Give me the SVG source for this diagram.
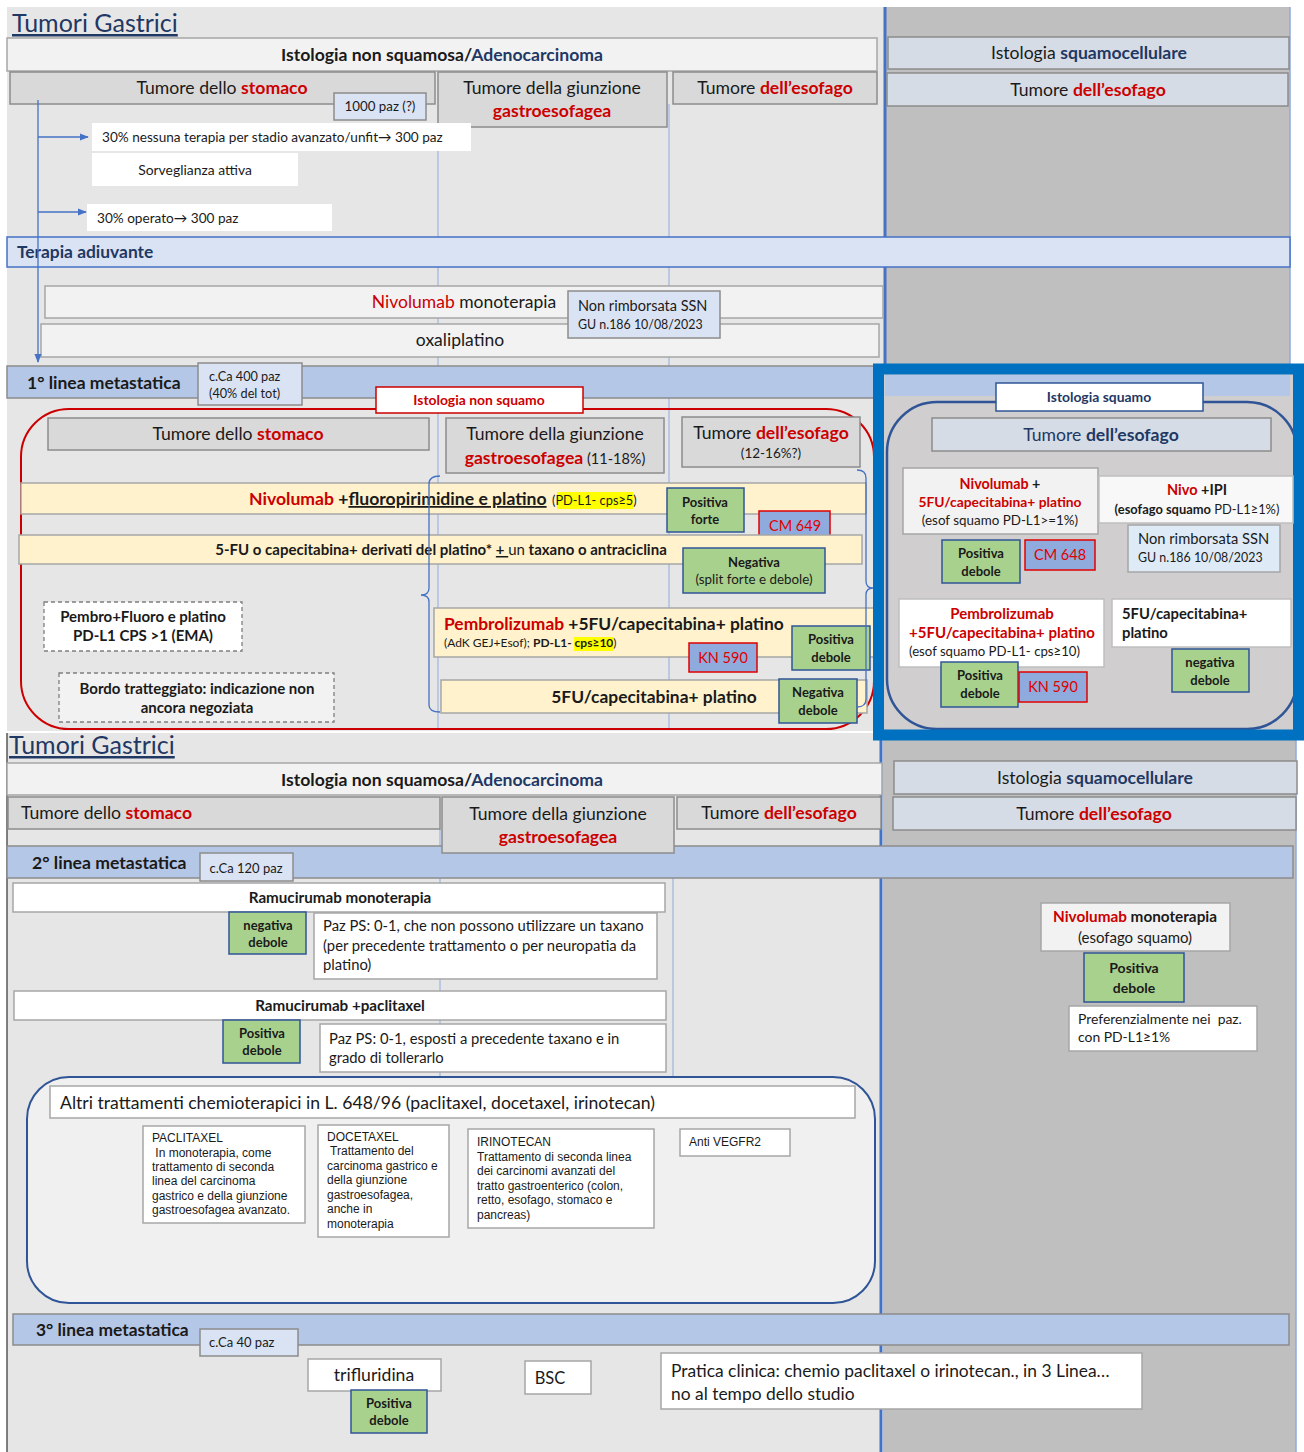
<svg xmlns="http://www.w3.org/2000/svg" width="1304" height="1452" viewBox="0 0 1304 1452">
<defs>
<style>
text{font-family:Lato,"Liberation Sans",sans-serif;fill:#1a1a1a}
.b{font-weight:bold}
.r{fill:#cc0000}
.db{fill:#1f3864}
.ar{font-family:"Liberation Sans",Arial,sans-serif;font-size:12px}
.c{text-anchor:middle}
.gbox{fill:#d9d9d9;stroke:#8c8c8c;stroke-width:1.5}
.lt{fill:#f2f2f2;stroke:#a6a6a6;stroke-width:1.5}
.wh{fill:#fff;stroke:#a6a6a6;stroke-width:1.5}
.lb{fill:#dae3f3;stroke:#8c8c8c;stroke-width:1.5}
.sq{fill:#d6dce5;stroke:#8c8c8c;stroke-width:1.5}
.band{fill:#b4c7e7;stroke:#8c8c8c;stroke-width:1.5}
.yel{fill:#fff2cc;stroke:#a6a6a6;stroke-width:1.5}
.grn{fill:#a9d18e;stroke:#2f5597;stroke-width:1.5}
.cm{fill:#8faadc;stroke:#e00000;stroke-width:1.5}
.cmt{fill:#e00000;font-size:14.5px;text-anchor:middle}
.gt{font-size:13px;font-weight:bold;text-anchor:middle}
.h{font-size:17.6px}
.dash{stroke-dasharray:4 3}
.col{stroke:#8faadc;stroke-width:1}
.conn{stroke:#4472c4;stroke-width:1.3;fill:none}
.hl{fill:#ffff00}
.pre{white-space:pre}
</style>
<marker id="ah" viewBox="0 0 10 10" refX="9" refY="5" markerWidth="7" markerHeight="7" orient="auto"><path d="M0,1 L10,5 L0,9 z" fill="#4472c4"/></marker>
</defs>

<!-- backgrounds -->
<rect width="1304" height="1452" fill="#fff"/>
<rect x="7" y="7" width="878" height="724" fill="#e7e6e6"/>
<rect x="886" y="7" width="404" height="360" fill="#bfbfbf"/>
<line x1="1290" y1="7" x2="1290" y2="367" stroke="#8faadc" stroke-width="1.5"/>
<line x1="885" y1="7" x2="885" y2="367" stroke="#4472c4" stroke-width="3"/>
<rect x="7" y="733" width="874" height="719" fill="#e7e6e6"/>
<rect x="883" y="736" width="413" height="716" fill="#bfbfbf"/>
<line x1="1296" y1="736" x2="1296" y2="1452" stroke="#8faadc" stroke-width="1.5"/>
<line x1="881" y1="736" x2="881" y2="1452" stroke="#4472c4" stroke-width="3"/>
<line x1="7" y1="733" x2="7" y2="1452" stroke="#595959" stroke-width="1.5"/>

<!-- column guide lines -->
<g id="column-lines">
<line class="col" x1="438" y1="127" x2="438" y2="729"/>
<line class="col" x1="669" y1="104" x2="669" y2="729"/>
<line class="col" x1="440" y1="829" x2="440" y2="1077"/>
<line class="col" x1="673" y1="829" x2="673" y2="1077"/>
</g>

<!-- ===== TOP SECTION ===== -->
<g id="title-top"><text x="12" y="32" font-size="25" class="db" text-decoration="underline">Tumori Gastrici</text></g>

<g id="hdr-nonsquamosa"><rect class="lt" x="7" y="38" width="870" height="33"/>
<text class="b c" x="442" y="61" font-size="17.6">Istologia non squamosa/<tspan class="db">Adenocarcinoma</tspan></text></g>
<g id="hdr-squamocellulare"><rect class="sq" x="888" y="37" width="401" height="32"/>
<text class="c h" x="1089" y="59">Istologia <tspan class="b db">squamocellulare</tspan></text></g>
<g id="hdr-esofago-r"><rect class="sq" x="887" y="73" width="401" height="33"/>
<text class="c h" x="1088" y="96">Tumore <tspan class="b r">dell’esofago</tspan></text></g>

<g id="hdr-stomaco"><rect class="gbox" x="10" y="72" width="425" height="32"/>
<text class="c h" x="222" y="94">Tumore dello <tspan class="b r">stomaco</tspan></text></g>
<g id="n-1000paz"><rect class="lb" x="334" y="93" width="92" height="27"/>
<text class="c" x="380" y="111" font-size="13.3">1000 paz (?)</text></g>
<g id="hdr-giunzione"><rect class="gbox" x="438" y="72" width="229" height="55"/>
<text class="c h" x="552" y="94">Tumore della giunzione</text>
<text class="c b r h" x="552" y="117">gastroesofagea</text></g>
<g id="hdr-esofago"><rect class="gbox" x="673" y="72" width="204" height="32"/>
<text class="c h" x="775" y="94">Tumore <tspan class="b r">dell’esofago</tspan></text></g>

<g id="n-nessuna"><rect x="92" y="123" width="379" height="28" fill="#fff"/>
<text x="102" y="142" font-size="13.6">30% nessuna terapia per stadio avanzato/unfit→ 300 paz</text></g>
<g id="n-sorveglianza"><rect x="92" y="153" width="206" height="33" fill="#fff"/>
<text class="c" x="195" y="175" font-size="13.9">Sorveglianza attiva</text></g>
<g id="n-operato"><rect x="87" y="204" width="245" height="27" fill="#fff"/>
<text x="97" y="223" font-size="13.6">30% operato→ 300 paz</text></g>

<g id="band-adiuvante"><rect x="7" y="237" width="1283" height="30" fill="#dae3f3" stroke="#4472c4" stroke-width="1.5"/>
<text class="b db" x="17" y="258" font-size="17.4">Terapia adiuvante</text></g>

<g id="n-nivo-adj"><rect class="lt" x="45" y="286" width="838" height="32"/>
<text class="c" x="464" y="308" font-size="17.5"><tspan class="r">Nivolumab</tspan> monoterapia</text></g>
<g id="n-oxali"><rect class="lt" x="41" y="324" width="838" height="33"/>
<text class="c" x="460" y="346" font-size="17.5">oxaliplatino</text></g>
<g id="n-nonrimb-adj"><rect class="lb" x="568" y="291" width="152" height="47"/>
<text x="578" y="311" font-size="14.5">Non rimborsata SSN</text>
<text x="578" y="329" font-size="12.4">GU n.186 10/08/2023</text></g>

<g id="band-1linea"><rect class="band" x="7" y="366" width="1283" height="32"/>
<text class="b" x="27" y="389" font-size="17.5">1° linea metastatica</text></g>
<g id="n-400paz"><rect class="lb" x="198" y="363" width="104" height="42"/>
<text x="209" y="381" font-size="12.7">c.Ca 400 paz</text>
<text x="209" y="398" font-size="12.7">(40% del tot)</text></g>

<g id="grp-nonsquamo">
<rect x="21" y="409" width="853" height="320" rx="48" fill="none" stroke="#cc0000" stroke-width="2"/>
<rect x="376" y="387" width="207" height="26" fill="#fff" stroke="#cc0000" stroke-width="1.5"/>
<text class="c b r" x="479" y="405" font-size="13.9">Istologia non squamo</text>
</g>

<g id="l1-stomaco"><rect class="gbox" x="48" y="418" width="381" height="32"/>
<text class="c h" x="238" y="440">Tumore dello <tspan class="b r">stomaco</tspan></text></g>
<g id="l1-giunzione"><rect class="gbox" x="446" y="418" width="218" height="55"/>
<text class="c h" x="555" y="440">Tumore della giunzione</text>
<text class="c h" x="555" y="464"><tspan class="b r">gastroesofagea</tspan><tspan font-size="14.5"> (11-18%)</tspan></text></g>
<g id="l1-esofago"><rect class="gbox" x="682" y="417" width="178" height="50"/>
<text class="c h" x="771" y="439">Tumore <tspan class="b r">dell’esofago</tspan></text>
<text class="c" x="771" y="458" font-size="13.5">(12-16%?)</text></g>

<g id="l1-nivo-chemo"><rect class="yel" x="21" y="483" width="845" height="31"/>
<rect class="hl" x="557" y="492" width="76" height="17"/>
<text x="249" y="505" font-size="17.6" class="b"><tspan class="r">Nivolumab</tspan> +<tspan text-decoration="underline">fluoropirimidine e platino </tspan></text>
<text x="552" y="505" font-size="12.8">(PD-L1- cps≥5)</text></g>
<g id="l1-positiva-forte"><rect class="grn" x="667" y="488" width="77" height="44"/>
<text class="gt" x="705" y="507">Positiva</text><text class="gt" x="705" y="524">forte</text></g>
<g id="l1-cm649"><rect class="cm" x="759" y="511" width="71" height="29"/>
<text class="cmt" x="795" y="531">CM 649</text></g>

<g id="l1-5fu-taxano"><rect class="yel" x="19" y="535" width="843" height="29"/>
<text class="c b" x="441" y="555" font-size="15">5-FU o capecitabina+ derivati del platino* <tspan text-decoration="underline">+ </tspan><tspan font-weight="normal">un</tspan> taxano o antraciclina</text></g>
<g id="l1-negativa"><rect class="grn" x="683" y="548" width="142" height="45"/>
<text class="gt" x="754" y="567">Negativa</text>
<text class="c" x="754" y="584" font-size="13.4">(split forte e debole)</text></g>

<g id="l1-pembro-ema"><rect x="44" y="602" width="198" height="49" fill="#fff" stroke="#7f7f7f" stroke-width="1.3" class="dash"/>
<text class="c b" x="143" y="622" font-size="15">Pembro+Fluoro e platino</text>
<text class="c b" x="143" y="641" font-size="15">PD-L1 CPS &gt;1 (EMA)</text></g>
<g id="legenda"><rect x="59" y="673" width="275" height="49" fill="#f2f2f2" stroke="#7f7f7f" stroke-width="1.3" class="dash"/>
<text class="c b" x="197" y="694" font-size="15">Bordo tratteggiato: indicazione non</text>
<text class="c b" x="197" y="713" font-size="15">ancora negoziata</text></g>

<g id="l1-pembro"><rect class="yel" x="434" y="608" width="442" height="49"/>
<rect class="hl" x="574" y="637" width="39" height="14"/>
<text class="b" x="444" y="630" font-size="17.4"><tspan class="r">Pembrolizumab</tspan> +5FU/capecitabina+ platino</text>
<text x="444" y="647" font-size="12">(AdK GEJ+Esof); <tspan class="b">PD-L1- cps≥10</tspan>)</text></g>
<g id="l1-kn590"><rect class="cm" x="689" y="643" width="68" height="29"/>
<text class="cmt" x="723" y="663">KN 590</text></g>
<g id="l1-positiva-debole"><rect class="grn" x="792" y="626" width="78" height="44"/>
<text class="gt" x="831" y="644">Positiva</text><text class="gt" x="831" y="662">debole</text></g>

<g id="l1-5fu"><rect class="yel" x="441" y="680" width="426" height="33"/>
<text class="c b" x="654" y="703" font-size="17.4">5FU/capecitabina+ platino</text></g>
<g id="l1-negativa-debole"><rect class="grn" x="779" y="679" width="78" height="44"/>
<text class="gt" x="818" y="697">Negativa</text><text class="gt" x="818" y="715">debole</text></g>

<!-- squamo framed area -->
<g id="grp-squamo">
<rect x="879" y="369" width="419" height="366" fill="#d0cece"/>
<rect x="885" y="375" width="405" height="21" fill="#b4c7e7"/>
<rect x="887" y="402" width="410" height="327" rx="50" fill="none" stroke="#2f5597" stroke-width="2.5"/>
<rect x="878.5" y="369" width="420" height="366" fill="none" stroke="#0070c0" stroke-width="11"/>
<rect x="996" y="383" width="207" height="28" fill="#fff" stroke="#2f5597" stroke-width="1.5"/>
<text class="c b db" x="1099" y="402" font-size="13.9">Istologia squamo</text>
</g>
<g id="sq-esofago"><rect class="sq" x="932" y="418" width="339" height="33"/>
<text class="c db h" x="1101" y="441">Tumore <tspan class="b">dell’esofago</tspan></text></g>
<g id="sq-nivo-chemo"><rect class="lt" x="903" y="468" width="195" height="66"/>
<text class="c b" x="1000" y="489" font-size="14.3"><tspan class="r">Nivolumab</tspan> +</text>
<text class="c b r" x="1000" y="507" font-size="13.8">5FU/capecitabina+ platino</text>
<text class="c" x="1000" y="525" font-size="13.4">(esof squamo PD-L1&gt;=1%)</text></g>
<g id="sq-nivo-ipi"><rect x="1099" y="476" width="194" height="47" fill="#f8f8f8" stroke="#bfbfbf" stroke-width="1.5"/>
<text class="c b" x="1197" y="495" font-size="14.5"><tspan class="r">Nivo</tspan> +IPI</text>
<text class="c" x="1197" y="514" font-size="12.9"><tspan class="b">(esofago squamo</tspan> PD-L1≥1%)</text></g>
<g id="sq-nonrimb"><rect x="1128" y="525" width="152" height="47" fill="#deebf7" stroke="#a6a6a6" stroke-width="1.5"/>
<text x="1138" y="544" font-size="14.7">Non rimborsata SSN</text>
<text x="1138" y="562" font-size="12.4">GU n.186 10/08/2023</text></g>
<g id="sq-positiva-debole-1"><rect class="grn" x="942" y="540" width="78" height="43"/>
<text class="gt" x="981" y="558">Positiva</text><text class="gt" x="981" y="576">debole</text></g>
<g id="sq-cm648"><rect class="cm" x="1025" y="540" width="70" height="30"/>
<text class="cmt" x="1060" y="560">CM 648</text></g>
<g id="sq-pembro"><rect x="899" y="599" width="205" height="68" fill="#fff" stroke="#bfbfbf" stroke-width="1.5"/>
<text class="c b r" x="1002" y="619" font-size="15">Pembrolizumab</text>
<text class="c b r" x="1002" y="638" font-size="15">+5FU/capecitabina+ platino</text>
<text x="909" y="656" font-size="13.2">(esof squamo PD-L1- cps≥10)</text></g>
<g id="sq-5fu"><rect x="1112" y="599" width="179" height="48" fill="#fff" stroke="#bfbfbf" stroke-width="1.5"/>
<text class="b" x="1122" y="619" font-size="14.8">5FU/capecitabina+</text>
<text class="b" x="1122" y="638" font-size="14.8">platino</text></g>
<g id="sq-positiva-debole-2"><rect class="grn" x="941" y="662" width="77" height="45"/>
<text class="gt" x="980" y="680">Positiva</text><text class="gt" x="980" y="698">debole</text></g>
<g id="sq-kn590"><rect class="cm" x="1019" y="672" width="68" height="30"/>
<text class="cmt" x="1053" y="692">KN 590</text></g>
<g id="sq-negativa-debole"><rect class="grn" x="1172" y="649" width="77" height="43"/>
<text class="gt" x="1210" y="667">negativa</text><text class="gt" x="1210" y="685">debole</text></g>

<!-- ===== BOTTOM SECTION ===== -->
<g id="title-bottom"><text x="9" y="754" font-size="25" class="db" text-decoration="underline">Tumori Gastrici</text></g>
<g id="hdr2-nonsquamosa"><rect class="lt" x="7" y="763" width="875" height="32"/>
<text class="b c" x="442" y="786" font-size="17.6">Istologia non squamosa/<tspan class="db">Adenocarcinoma</tspan></text></g>
<g id="hdr2-squamocellulare"><rect class="sq" x="894" y="761" width="403" height="33"/>
<text class="c h" x="1095" y="784">Istologia <tspan class="b db">squamocellulare</tspan></text></g>
<g id="hdr2-esofago-r"><rect class="sq" x="893" y="797" width="403" height="33"/>
<text class="c h" x="1094" y="820">Tumore <tspan class="b r">dell’esofago</tspan></text></g>
<g id="hdr2-stomaco"><rect class="gbox" x="8" y="797" width="432" height="32"/>
<text class="h" x="21" y="819">Tumore dello <tspan class="b r">stomaco</tspan></text></g>
<g id="hdr2-esofago"><rect class="gbox" x="677" y="797" width="204" height="32"/>
<text class="c h" x="779" y="819">Tumore <tspan class="b r">dell’esofago</tspan></text></g>

<g id="band-2linea"><rect class="band" x="7" y="846" width="1286" height="32"/>
<text class="b" x="32" y="869" font-size="17.6">2° linea metastatica</text></g>
<g id="hdr2-giunzione"><rect class="gbox" x="442" y="797" width="232" height="56"/>
<text class="c h" x="558" y="820">Tumore della giunzione</text>
<text class="c b r h" x="558" y="843">gastroesofagea</text></g>
<g id="n-120paz"><rect class="lb" x="200" y="853" width="93" height="28"/>
<text class="c" x="246" y="873" font-size="13">c.Ca 120 paz</text></g>

<g id="l2-ramu-mono"><rect class="wh" x="13" y="883" width="652" height="29"/>
<text class="c b" x="340" y="903" font-size="15.2">Ramucirumab monoterapia</text></g>
<g id="l2-negativa-debole"><rect class="grn" x="229" y="912" width="77" height="42"/>
<text class="gt" x="268" y="930">negativa</text><text class="gt" x="268" y="947">debole</text></g>
<g id="l2-note1"><rect class="wh" x="314" y="913" width="343" height="66"/>
<text x="323" y="931" font-size="14.8">Paz PS: 0-1, che non possono utilizzare un taxano</text>
<text x="323" y="951" font-size="14.8">(per precedente trattamento o per neuropatia da</text>
<text x="323" y="970" font-size="14.8">platino)</text></g>
<g id="l2-ramu-pacli"><rect class="wh" x="14" y="991" width="652" height="29"/>
<text class="c b" x="340" y="1011" font-size="15.2">Ramucirumab +paclitaxel</text></g>
<g id="l2-positiva-debole"><rect class="grn" x="223" y="1020" width="77" height="43"/>
<text class="gt" x="262" y="1038">Positiva</text><text class="gt" x="262" y="1055">debole</text></g>
<g id="l2-note2"><rect class="wh" x="320" y="1024" width="346" height="48"/>
<text x="329" y="1044" font-size="14.8">Paz PS: 0-1, esposti a precedente taxano e in</text>
<text x="329" y="1063" font-size="14.8">grado di tollerarlo</text></g>

<g id="grp-altri"><rect x="27" y="1077" width="848" height="226" rx="42" fill="#f0f0f0" stroke="#2f5597" stroke-width="2"/></g>
<g id="l2-altri"><rect class="wh" x="50" y="1086" width="805" height="32"/>
<text x="60" y="1109" font-size="17.6">Altri trattamenti chemioterapici in L. 648/96 (paclitaxel, docetaxel, irinotecan)</text></g>
<g id="l2-paclitaxel"><rect class="wh" x="143" y="1126" width="162" height="97"/>
<text class="ar pre" x="152" y="1142">PACLITAXEL</text>
<text class="ar pre" x="152" y="1157"> In monoterapia, come</text>
<text class="ar" x="152" y="1171">trattamento di seconda</text>
<text class="ar" x="152" y="1185">linea del carcinoma</text>
<text class="ar" x="152" y="1200">gastrico e della giunzione</text>
<text class="ar" x="152" y="1214">gastroesofagea avanzato.</text></g>
<g id="l2-docetaxel"><rect class="wh" x="318" y="1125" width="131" height="112"/>
<text class="ar" x="327" y="1141">DOCETAXEL</text>
<text class="ar pre" x="327" y="1155"> Trattamento del</text>
<text class="ar" x="327" y="1170">carcinoma gastrico e</text>
<text class="ar" x="327" y="1184">della giunzione</text>
<text class="ar" x="327" y="1199">gastroesofagea,</text>
<text class="ar" x="327" y="1213">anche in</text>
<text class="ar" x="327" y="1228">monoterapia</text></g>
<g id="l2-irinotecan"><rect class="wh" x="468" y="1129" width="186" height="99"/>
<text class="ar" x="477" y="1146">IRINOTECAN</text>
<text class="ar" x="477" y="1161">Trattamento di seconda linea</text>
<text class="ar" x="477" y="1175">dei carcinomi avanzati del</text>
<text class="ar" x="477" y="1190">tratto gastroenterico (colon,</text>
<text class="ar" x="477" y="1204">retto, esofago, stomaco e</text>
<text class="ar" x="477" y="1219">pancreas)</text></g>
<g id="l2-antivegfr2"><rect class="wh" x="680" y="1129" width="110" height="27"/>
<text class="ar" x="689" y="1146">Anti VEGFR2</text></g>

<g id="l2-sq-nivo"><rect class="lt" x="1041" y="903" width="189" height="48"/>
<text class="c b" x="1135" y="922" font-size="15.3"><tspan class="r">Nivolumab</tspan> monoterapia</text>
<text class="c" x="1135" y="943" font-size="15">(esofago squamo)</text></g>
<g id="l2-sq-positiva-debole"><rect class="grn" x="1084" y="953" width="100" height="49"/>
<text class="c b" x="1134" y="973" font-size="14">Positiva</text>
<text class="c b" x="1134" y="993" font-size="14">debole</text></g>
<g id="l2-sq-note"><rect class="wh" x="1069" y="1006" width="188" height="45"/>
<text class="pre" x="1078" y="1024" font-size="13.9">Preferenzialmente nei  paz.</text>
<text x="1078" y="1042" font-size="13.9">con PD-L1≥1%</text></g>

<g id="band-3linea"><rect class="band" x="13" y="1314" width="1276" height="31"/>
<text class="b" x="36" y="1336" font-size="17.4">3° linea metastatica</text></g>
<g id="n-40paz"><rect class="lb" x="200" y="1329" width="98" height="27"/>
<text x="209" y="1347" font-size="13">c.Ca 40 paz</text></g>
<g id="l3-trifluridina"><rect class="wh" x="308" y="1359" width="133" height="32"/>
<text class="c" x="374" y="1381" font-size="17.6">trifluridina</text></g>
<g id="l3-positiva-debole"><rect class="grn" x="351" y="1390" width="76" height="43"/>
<text class="gt" x="389" y="1408">Positiva</text><text class="gt" x="389" y="1425">debole</text></g>
<g id="l3-bsc"><rect class="wh" x="525" y="1361" width="66" height="33"/>
<text class="c" x="550" y="1384" font-size="16.5">BSC</text></g>
<g id="l3-pratica"><rect class="wh" x="661" y="1353" width="481" height="56"/>
<text x="671" y="1377" font-size="17.4">Pratica clinica: chemio paclitaxel o irinotecan., in 3 Linea…</text>
<text x="671" y="1400" font-size="17.4">no al tempo dello studio</text></g>

<!-- connectors -->
<g id="connectors">
<line class="conn" x1="38" y1="100" x2="38" y2="362" marker-end="url(#ah)"/>
<line class="conn" x1="38" y1="137" x2="88" y2="137" marker-end="url(#ah)"/>
<line class="conn" x1="38" y1="212" x2="86" y2="212" marker-end="url(#ah)"/>
<path class="conn" stroke-width="2" d="M440,476 Q429,476 429,484 L429,588 Q429,595 421,595 Q429,595 429,602 L429,705 Q429,712 440,712"/>
<path class="conn" stroke-width="2" d="M857,470 Q866,470 866,478 L866,581 Q866,588 873,588 Q866,588 866,595 L866,699 Q866,707 857,707"/>
</g>
</svg>
